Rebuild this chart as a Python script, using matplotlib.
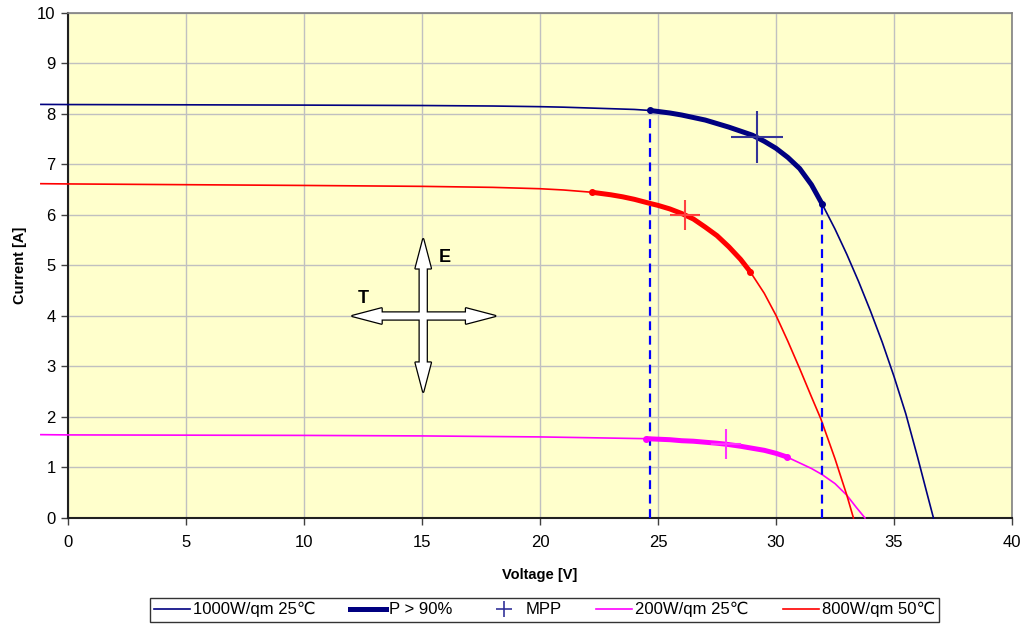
'''
I-V curves of a PV module at different irradiance / temperature.
'''

import numpy as np
from matplotlib import pyplot as plt
from matplotlib.patches import FancyArrowPatch, ArrowStyle
from matplotlib.lines import Line2D

plt.rcParams['font.family'] = ['Liberation Sans', 'DejaVu Sans']

######################

# 1000 W/qm, 25 C
v_1000 = [-1.15, 0, 5, 10, 15, 18, 20, 21, 22, 23, 24, 24.65, 25, 25.5, 26, 26.5, 27, 27.5, 28, 28.5,
          29, 29.5, 30, 30.5, 31, 31.5, 31.95, 32.5, 33, 33.5, 34, 34.5, 35, 35.5, 36, 36.35, 36.67]
i_1000 = [8.19, 8.187, 8.182, 8.176, 8.168, 8.158, 8.145, 8.135, 8.12, 8.105, 8.09, 8.07, 8.05, 8.02, 7.98, 7.93,
          7.88, 7.81, 7.74, 7.66, 7.58, 7.46, 7.32, 7.14, 6.92, 6.60, 6.22, 5.72, 5.22, 4.68, 4.10, 3.48,
          2.80, 2.06, 1.20, 0.57, 0.0]

# 800 W/qm, 50 C
v_800 = [-1.15, 0, 5, 10, 15, 18, 20, 21, 22.2, 23, 23.5, 24, 24.65, 25, 25.5, 26, 26.5, 27, 27.5, 28,
         28.5, 28.9, 29.5, 30, 30.5, 31, 31.5, 31.9, 32.5, 33, 33.28]
i_800 = [6.62, 6.615, 6.6, 6.585, 6.567, 6.547, 6.52, 6.495, 6.45, 6.40, 6.36, 6.31, 6.23, 6.19, 6.12, 6.03,
         5.92, 5.76, 5.59, 5.37, 5.12, 4.88, 4.45, 4.01, 3.50, 2.96, 2.40, 1.96, 1.17, 0.45, 0.0]

# 200 W/qm, 25 C
v_200 = [-1.15, 0, 5, 10, 15, 20, 22, 24.5, 25, 25.5, 26, 26.5, 27, 27.5, 27.9, 28.5, 29, 29.5, 30, 30.45,
         31, 31.5, 31.95, 32.5, 33, 33.4, 33.77]
i_200 = [1.65, 1.645, 1.64, 1.635, 1.625, 1.605, 1.59, 1.57, 1.56, 1.55, 1.53, 1.52, 1.50, 1.48, 1.46, 1.42,
         1.38, 1.34, 1.28, 1.21, 1.09, 0.98, 0.86, 0.68, 0.45, 0.21, 0.0]

# P > 90% ranges
v_p90_1000 = [24.65, 25, 25.5, 26, 26.5, 27, 27.5, 28, 28.5, 29, 29.5, 30, 30.5, 31, 31.5, 31.95]
i_p90_1000 = [8.07, 8.05, 8.02, 7.98, 7.93, 7.88, 7.81, 7.74, 7.66, 7.58, 7.46, 7.32, 7.14, 6.92, 6.60, 6.22]
v_p90_800 = [22.2, 23, 23.5, 24, 24.65, 25, 25.5, 26, 26.5, 27, 27.5, 28, 28.5, 28.9]
i_p90_800 = [6.45, 6.40, 6.36, 6.31, 6.23, 6.19, 6.12, 6.03, 5.92, 5.76, 5.59, 5.37, 5.12, 4.88]
v_p90_200 = [24.5, 25, 25.5, 26, 26.5, 27, 27.5, 27.9, 28.5, 29, 29.5, 30, 30.45]
i_p90_200 = [1.57, 1.56, 1.55, 1.53, 1.52, 1.50, 1.48, 1.46, 1.42, 1.38, 1.34, 1.28, 1.21]

# maximum power points
mpp_v = [29.2, 26.15, 27.9]
mpp_i = [7.55, 6.0, 1.46]

# limits of the P > 90% range (1000 W/qm)
lim_v = [24.65, 31.95]
lim_i = [8.07, 6.22]

navy = '#000080'

fig = plt.figure(figsize=(10.26, 6.28), dpi=100)
ax = fig.add_axes([0.0663, 0.1752, 0.9201, 0.8041])
ax.set_facecolor('#FFFFCC')

curves = [(v_1000, i_1000, navy), (v_200, i_200, '#FF00FF'), (v_800, i_800, '#FF0000')]
for v, i, c in curves:
    ax.plot(v, i, c=c, lw=1.2, clip_on=False, zorder=3)

thick = [(v_p90_1000, i_p90_1000, navy), (v_p90_800, i_p90_800, '#FF0000'), (v_p90_200, i_p90_200, '#FF00FF')]
for v, i, c in thick:
    ax.plot(v, i, c=c, lw=3.6, solid_capstyle='butt', solid_joinstyle='round', zorder=4)
    ax.plot([v[0], v[-1]], [i[0], i[-1]], ls='none', marker='o', ms=4, c=c, zorder=4)

mpp_style = [(38, '#333399'), (22, '#FF4040'), (21, '#FF33FF')]
for v, i, (ms, c) in zip(mpp_v, mpp_i, mpp_style):
    ax.plot(v, i, ls='none', marker='+', ms=ms, mew=1.5, c=c, zorder=5)

# dashed limits
for v, i in zip(lim_v, lim_i):
    ax.plot([v, v], [0, i], c='#0000FF', lw=1.6, ls=(0, (4, 2.5)), zorder=3.5)

# T / E arrows
centre = (15.05, 4.0)
tips = [(12.05, 4.0), (18.1, 4.0), (15.05, 5.52), (15.05, 2.5)]
style = ArrowStyle.Simple(head_length=21, head_width=11, tail_width=5)
for pass_no in range(2):
    for tip in tips:
        if pass_no == 0:
            arr = FancyArrowPatch(centre, tip, arrowstyle=style, mutation_scale=1,
                                  shrinkA=0, shrinkB=0, fc='white', ec='black', lw=1.8, zorder=6)
        else:
            arr = FancyArrowPatch(centre, tip, arrowstyle=style, mutation_scale=1,
                                  shrinkA=0, shrinkB=0, fc='white', ec='none', lw=0, zorder=7)
        ax.add_patch(arr)
ax.text(15.95, 5.15, 'E', fontsize=13, fontweight='bold', ha='center', va='center', zorder=8)
ax.text(12.5, 4.35, 'T', fontsize=13, fontweight='bold', ha='center', va='center', zorder=8)

ax.set_xlim(0, 40)
ax.set_ylim(0, 10)
ax.set_xticks(np.arange(0, 41, 5))
ax.set_yticks(np.arange(0, 11, 1))
ax.grid(True, c='#C0C0C0', lw=1)
ax.set_axisbelow(True)
ax.tick_params(labelsize=12, length=5, width=1, color='#404040', pad=4)
ax.tick_params(axis='x', pad=7.5)
for side in ['left', 'bottom']:
    ax.spines[side].set_color('#202020')
    ax.spines[side].set_linewidth(1.5)
for side in ['top', 'right']:
    ax.spines[side].set_color('#808080')
    ax.spines[side].set_linewidth(1.2)

ax.set_xlabel('Voltage [V]', fontsize=10.5, fontweight='bold', labelpad=13)
ax.set_ylabel('Current [A]', fontsize=10.5, fontweight='bold', labelpad=7.5)

handles = [Line2D([], [], c=navy, lw=1.2),
           Line2D([], [], c=navy, lw=3.6),
           Line2D([], [], ls='none', marker='+', ms=11, mew=1.2, c='#333399'),
           Line2D([], [], c='#FF00FF', lw=1.2),
           Line2D([], [], c='#FF0000', lw=1.2)]
labels = ['1000W/qm 25\u2103', 'P > 90%', 'MPP', '200W/qm 25\u2103', '800W/qm 50\u2103']
leg = fig.legend(handles, labels, loc='center', bbox_to_anchor=(0.5307, 0.029), ncol=5, fontsize=12,
                 frameon=True, fancybox=False, edgecolor='black', handlelength=2.15,
                 columnspacing=2.05, handletextpad=0.2, borderpad=0.25, borderaxespad=0)
leg.get_frame().set_linewidth(1.0)

fig.savefig('out.png', dpi=100)
